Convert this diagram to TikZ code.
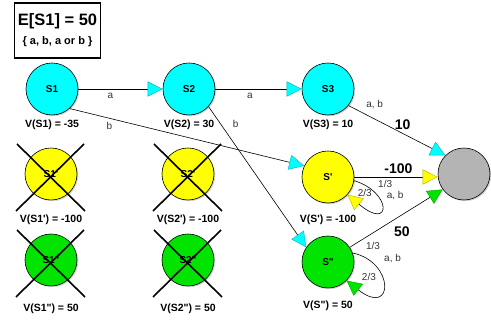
\documentclass[tikz,border=0pt]{standalone}
\usepackage{fontspec}
\setmainfont{Liberation Sans}
\usetikzlibrary{arrows.meta,shadows}

\definecolor{scyan}{RGB}{0,255,255}
\definecolor{syellow}{RGB}{255,255,0}
\definecolor{sgreen}{RGB}{0,228,0}
\definecolor{sgray}{RGB}{180,180,180}

\newcommand{\pr}{\textquotesingle}
\newcommand{\dpr}{\textquotedbl}

\tikzset{
  state/.style={circle, draw=black, line width=0.6pt, minimum size=52pt, inner sep=0pt,
    font=\bfseries\fontsize{10}{12}\selectfont,
    drop shadow={shadow xshift=1.2pt, shadow yshift=-1.2pt, opacity=0.35}},
  val/.style={font=\bfseries\fontsize{10.5}{12}\selectfont},
  lbl/.style={font=\fontsize{10}{12}\selectfont, text=black!80},
  rew/.style={font=\bfseries\fontsize{14}{16}\selectfont},
  trans/.style={line width=0.6pt},
  cyantip/.style={-{Triangle[length=15pt,width=15pt,color=scyan!70!black,fill=scyan,line width=0.4pt]}},
  yellowtip/.style={-{Triangle[length=15pt,width=15pt,color=syellow!70!black,fill=syellow,line width=0.4pt]}},
  greentip/.style={-{Triangle[length=15pt,width=15pt,color=sgreen!70!black,fill=sgreen,line width=0.4pt]}},
  cross/.style={line width=1.6pt}
}

\begin{document}
\begin{tikzpicture}[x=1pt, y=-1pt]
    \useasboundingbox (0,0) rectangle (491,320);

    % goal box
    \node[draw, line width=1.6pt, minimum width=85pt, minimum height=55pt, align=center] (goal) at (57.5,30.5)
        {{\bfseries\fontsize{16.5}{18}\selectfont E[S1] = 50}\\[7pt]{\bfseries\fontsize{11}{12}\selectfont \{ a, b, a or b \}}};

    % states
    \node[state, fill=scyan, label={[val, label distance=1pt]below:{V(S1) = -35}}] (s1) at (52,89) {S1};
    \node[state, fill=scyan, label={[val, label distance=1pt]below:{V(S2) = 30}}] (s2) at (189,89) {S2};
    \node[state, fill=scyan, label={[val, label distance=1pt]below:{V(S3) = 10}}] (s3) at (328,89) {S3};
    \node[state, fill=syellow, label={[val, label distance=8pt]below:{V(S\pr) = -100}}] (sp) at (328,177) {S\pr};
    \node[state, fill=sgreen, label={[val, label distance=9pt]below:{V(S\dpr) = 50}}] (spp) at (328,262) {S\dpr};
    \node[state, fill=sgray] (fin) at (464,174) {};

    % pruned states
    \node[state, fill=syellow, label={[val, label distance=11pt]below:{V(S1\pr) = -100}}] (s1p) at (51,174) {S1\pr};
    \node[state, fill=syellow, label={[val, label distance=11pt]below:{V(S2\pr) = -100}}] (s2p) at (188,174) {S2\pr};
    \node[state, fill=sgreen, label={[val, label distance=14pt]below:{V(S1\dpr) = 50}}] (s1pp) at (51,260) {S1\dpr};
    \node[state, fill=sgreen, label={[val, label distance=14pt]below:{V(S2\dpr) = 50}}] (s2pp) at (188,260) {S2\dpr};
    \foreach \n in {s1p,s2p,s1pp,s2pp}
        \draw[cross] (\n.center) ++(-34,-30) -- ++(68,67) (\n.center) ++(33,-30) -- ++(-68,67);

    % transitions
    \draw[trans, cyantip] (s1) -- (s2) node[lbl, pos=0.38, below] {a};
    \draw[trans, cyantip] (s1.-48) -- (sp.155) node[lbl, pos=0.17, below] {b};
    \draw[trans, cyantip] (s2) -- (s3) node[lbl, pos=0.4, below] {a};
    \draw[trans, cyantip] (s2.-42) -- (spp.146) node[lbl, pos=0.12, right=9pt] {b};
    \draw[trans, cyantip] (s3.-39) -- (fin.135)
        node[lbl, pos=0.27, above=7pt] {a, b}
        node[rew, pos=0.56, above] {10};
    \draw[trans, yellowtip] (sp.east) -- (sp.east -| fin.west)
        node[rew, pos=0.53, above] {-100}
        node[lbl, pos=0.37, below] {1/3}
        node[lbl, pos=0.49, below=11pt] {a, b};
    \draw[trans, greentip] (spp.34) -- (fin.-144)
        node[rew, pos=0.56, below=8pt] {50}
        node[lbl, pos=0.25, below=6pt] {1/3}
        node[lbl, pos=0.46, below=30pt] {a, b};

    % self loops
    \draw[trans, yellowtip] (sp.-8) .. controls (392,192) and (392,232) .. (sp.-42)
        node[lbl, pos=0.25, left] {2/3};
    \draw[trans, greentip] (spp.20) .. controls (395,262) and (394,318) .. (spp.-45)
        node[lbl, pos=0.4, left=3pt] {2/3};
\end{tikzpicture}
\end{document}
